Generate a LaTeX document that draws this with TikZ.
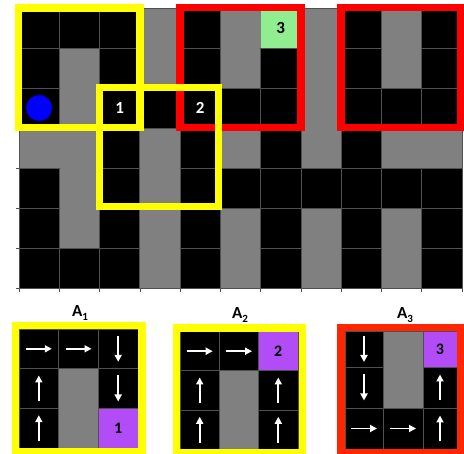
\documentclass[tikz,border=0pt]{standalone}
\usepackage{fontspec}
\setmainfont{Carlito}
\usetikzlibrary{arrows.meta}
\definecolor{cellgray}{RGB}{128,128,128}
\definecolor{gridline}{RGB}{80,80,80}
\definecolor{goalgreen}{RGB}{144,238,144}
\definecolor{purp}{RGB}{177,76,247}
\definecolor{yel}{RGB}{255,255,0}
\definecolor{redA}{RGB}{255,0,0}
\definecolor{redB}{RGB}{255,38,0}
\definecolor{agentblue}{RGB}{0,0,255}
\tikzset{
  blk/.style={fill=black, draw=gridline, line width=0.7pt},
  gry/.style={fill=cellgray, draw=gridline, line width=0.7pt},
  grn/.style={fill=goalgreen},
  pur/.style={fill=purp, draw=gridline, line width=0.7pt},
  frameY/.style={draw=yel, line width=7.5pt},
  frameR/.style={draw=redA, line width=7.5pt},
  frameO/.style={draw=redB, line width=7.5pt},
  arr/.style={draw=white, line width=1.8pt, -{Triangle[length=7pt,width=7pt]}},
  numw/.style={text=white, font=\fontsize{17}{17}\selectfont\bfseries},
  numb/.style={text=black, font=\fontsize{17}{17}\selectfont\bfseries},
  nump/.style={text=black, font=\fontsize{16}{16}\selectfont\bfseries},
  ttl/.style={text=black, font=\fontsize{17}{17}\selectfont\bfseries},
  tick/.style={draw=gridline, line width=0.6pt},
}
\newcommand\subidx[1]{\raisebox{-0.4ex}{\fontsize{11}{11}\selectfont #1}}
\begin{document}
\begin{tikzpicture}[x=1pt,y=-1pt]
\useasboundingbox (0,0) rectangle (464,454);
\clip (0,0) rectangle (464,454);
% ---------- top grid ----------
\fill[cellgray] (19,8) rectangle (462,288);
\foreach \row [count=\r from 0] in {
  {1,1,1,0,1,0,2,0,1,0,1},
  {1,0,1,0,1,0,1,0,1,0,1},
  {1,0,1,1,1,1,1,0,1,1,1},
  {0,0,1,0,1,0,1,0,1,0,0},
  {1,0,1,0,1,1,1,1,1,1,1},
  {1,0,1,0,1,0,1,0,1,0,1},
  {1,1,1,0,1,0,1,0,1,0,1}} {
  \foreach \v [count=\c from 0] in \row {
    \ifnum\v=1
      \draw[blk] ({19+\c*40.27},{8+\r*40}) rectangle ++(40.27,40);
    \fi
    \ifnum\v=2
      \fill[grn] ({19+\c*40.27},{8+\r*40}) rectangle ++(40.27,40);
    \fi
  }
}
\draw[gridline, line width=0.6pt] (19,8) rectangle (462,288);
\foreach \k in {0,...,7} \draw[tick] (15.5,{8+\k*40}) -- (19,{8+\k*40});
\foreach \k in {0,...,11} \draw[tick] ({19+\k*40.27},288) -- ({19+\k*40.27},292);
% frames
\draw[frameR] (180.1,7.5) rectangle (300.9,127.5);
\draw[frameR] (341.2,7.5) rectangle (461,127.5);
\draw[frameY] (18.5,8) rectangle (139.8,127.5);
\draw[frameY] (99.5,87.5) rectangle (218.5,206.5);
% agent and labels
\node[circle, fill=agentblue, draw=blue!60!black, line width=0.5pt, minimum size=26pt, inner sep=0pt] (agent) at (39.1,108) {};
\node[numw] (g1) at (119.7,108) {1};
\node[numw] (g2) at (200.2,108) {2};
\node[numb] (g3) at (280.8,28) {3};
% ---------- A1 ----------
\node[ttl] (t1) at (80,313) {A\subidx{1}};
\foreach \x in {19,58.67,98.33} \foreach \y in {329,368.67,408.33}
  \draw[blk] (\x,\y) rectangle ++(39.67,39.67);
\draw[gry] (58.67,368.67) rectangle (98.33,448);
\draw[pur] (98.33,408.33) rectangle (138,448);
\node[nump] (p1) at (118.2,428.5) {1};
\foreach \x/\y in {38.8/348.8,78.5/348.8} \draw[arr] (\x,\y) ++(-13,0) -- ++(26,0);
\foreach \x/\y in {118.2/348.8,118.2/388.5} \draw[arr] (\x,\y) ++(0,-13) -- ++(0,26);
\foreach \x/\y in {38.8/388.5,38.8/428.2} \draw[arr] (\x,\y) ++(0,13) -- ++(0,-26);
\draw[frameY] (15.5,325.5) rectangle (142,451.5);
% ---------- A2 ----------
\node[ttl] (t2) at (240,315) {A\subidx{2}};
\foreach \x in {180,219.33,258.67} \foreach \y in {331.5,370.83,410.17}
  \draw[blk] (\x,\y) rectangle ++(39.33,39.33);
\draw[gry] (219.33,370.83) rectangle (258.67,449.5);
\draw[pur] (258.67,331.5) rectangle (298,370.83);
\node[nump] (p2) at (278.3,351.2) {2};
\foreach \x/\y in {199.7/351.2,239/351.2} \draw[arr] (\x,\y) ++(-13,0) -- ++(26,0);
\foreach \x/\y in {199.7/390.5,199.7/429.8,278.3/390.5,278.3/429.8} \draw[arr] (\x,\y) ++(0,13) -- ++(0,-26);
\draw[frameY] (176.5,328) rectangle (302.5,453);
% ---------- A3 ----------
\node[ttl] (t3) at (405,315) {A\subidx{3}};
\foreach \x/\w in {345/38,383/40,423/34} \foreach \y/\h in {331/36.5,367.5/40.5,408/41}
  \draw[blk] (\x,\y) rectangle ++(\w,\h);
\draw[gry] (383,331) rectangle (423,408);
\draw[pur] (423,331) rectangle (457,367.5);
\node[nump] (p3) at (440,349.5) {3};
\foreach \x/\y in {364/349,364/387.5} \draw[arr] (\x,\y) ++(0,-13) -- ++(0,26);
\foreach \x/\y in {440/387.5,440/428.5} \draw[arr] (\x,\y) ++(0,13) -- ++(0,-26);
\foreach \x/\y in {364/428.5,403/428.5} \draw[arr] (\x,\y) ++(-13,0) -- ++(26,0);
\draw[frameO] (341,327.5) rectangle (460.5,452.5);
\end{tikzpicture}
\end{document}
